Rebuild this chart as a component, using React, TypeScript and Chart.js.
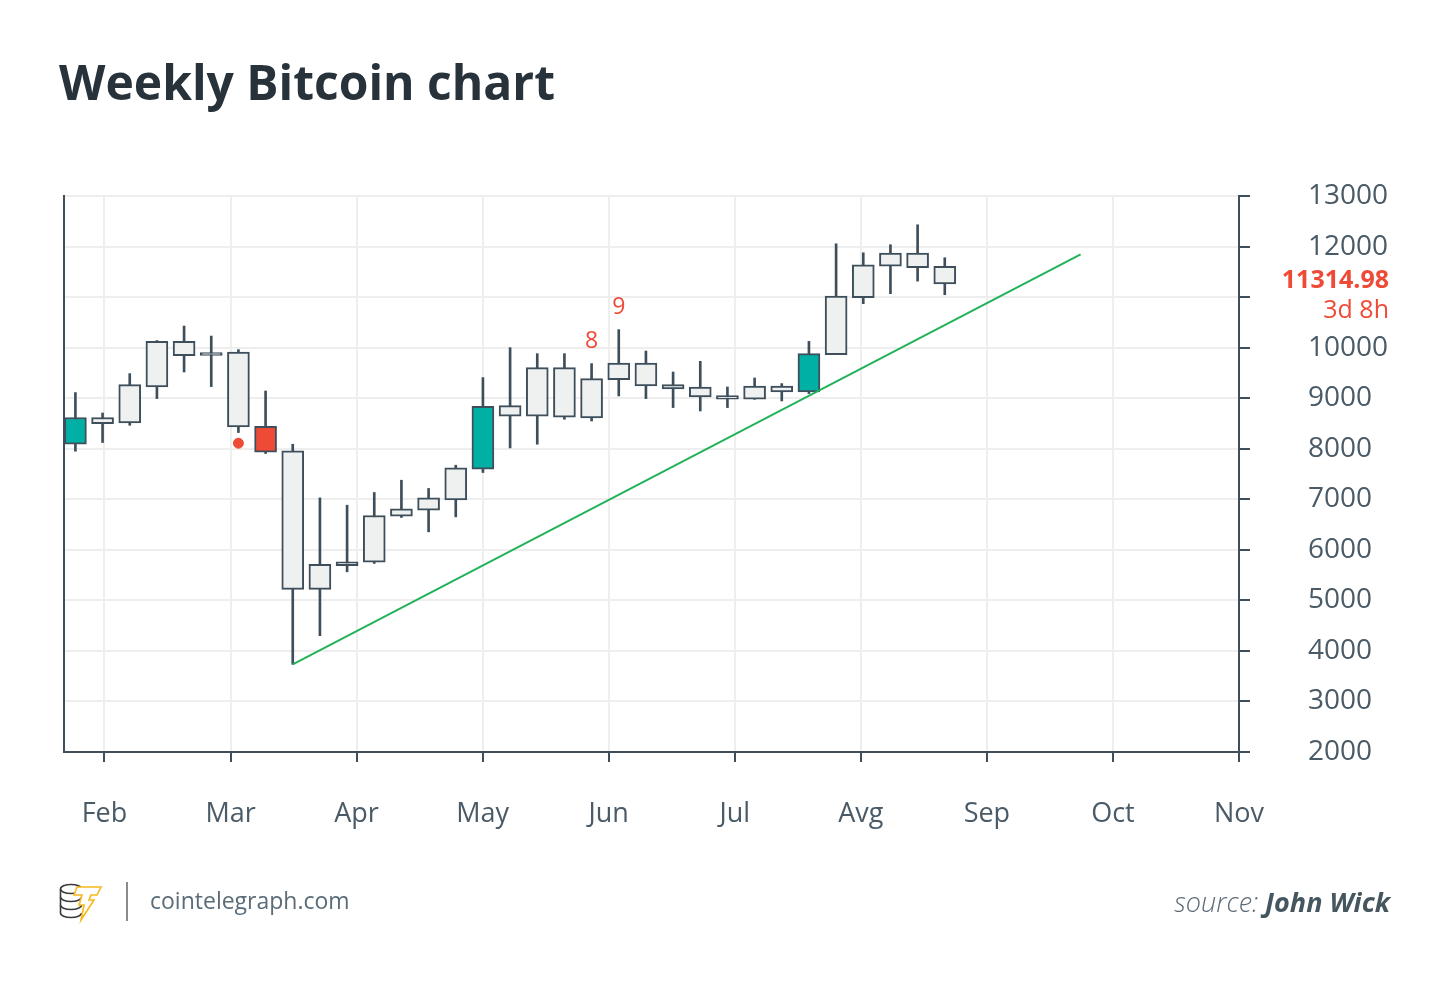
import React, { useEffect, useRef } from "react";
import { Chart, registerables } from "chart.js";

Chart.register(...registerables);

// ---------- data ----------
const TITLE = "Weekly Bitcoin chart";
const SITE = "cointelegraph.com";
const SOURCE_PREFIX = "source: ";
const SOURCE_NAME = "John Wick";

const monthLabels = ["Feb", "Mar", "Apr", "May", "Jun", "Jul", "Avg", "Sep", "Oct", "Nov"];
// month tick positions in week-index units
const monthPositions = [1.07, 5.71, 10.35, 14.99, 19.63, 24.27, 28.91, 33.55, 38.19, 42.83];

const opens = [8089, 8617, 8510, 9221, 10124, 9901, 9913, 8445, 7957, 5217, 5684, 5757, 6666, 6785, 6988, 7595, 8642, 8642, 9605, 8609, 9368, 9696, 9269, 9221, 9051, 8978, 9241, 9122, 9862, 10988, 11613, 11870, 11607];
const highs = [9111, 8707, 9486, 10140, 10427, 10229, 9960, 9142, 8089, 7028, 6883, 7134, 7377, 7214, 7674, 9407, 10000, 9881, 9881, 9684, 10356, 9933, 9518, 9729, 9221, 9399, 9289, 10124, 12055, 11877, 12036, 12431, 11779];
const lows = [7951, 8123, 8464, 8992, 9518, 9229, 8320, 7905, 3735, 4300, 5565, 5731, 6640, 6356, 6652, 7529, 8016, 8089, 8583, 8549, 9044, 8992, 8814, 8747, 8814, 8978, 8945, 9091, 9862, 10870, 11067, 11316, 11047];
const closes = [8617, 8498, 9269, 10124, 9842, 9848, 8431, 7931, 5217, 5712, 5763, 6679, 6811, 7028, 7621, 8840, 8853, 9605, 8622, 9387, 9696, 9241, 9182, 9024, 8978, 9241, 9122, 9881, 11020, 11640, 11870, 11581, 11260];
const candleKinds = ["teal", "plain", "plain", "plain", "plain", "plain", "plain", "red", "plain", "plain", "plain", "plain", "plain", "plain", "plain", "teal", "plain", "plain", "plain", "plain", "plain", "plain", "plain", "plain", "plain", "plain", "plain", "teal", "plain", "plain", "plain", "plain", "plain"];

const trendX = [8, 37];
const trendY = [3735, 11844];

const markerX = [6];
const markerY = [8109];

const countLabels = ["8", "9"];
const countX = [19, 20];

const currentPrice = 11314.98;
const currentPriceLabel = "11314.98";
const timeLeftLabel = "3d 8h";

const yMin = 2000;
const yMax = 13000;
const yStep = 1000;
const hiddenYLabels = [11000];

// ---------- styles ----------
const FONT = '"Open Sans", "DejaVu Sans", sans-serif';
const DARK = "#3e4f5b";
const TEXT = "#4a5b67";
const GRID = "#eeeeee";
const TEAL = "#00b0a4";
const RED = "#ef4a36";
const PLAIN = "#eff1f1";
const GREEN = "#22b259";

const kindColor = (k: string) => (k === "teal" ? TEAL : k === "red" ? RED : PLAIN);

const overlayPlugin = {
  id: "overlay",
  afterDraw(chart: any) {
    const ctx = chart.ctx as CanvasRenderingContext2D;
    const ys = chart.scales.y;
    const xs = chart.scales.x;
    ctx.save();

    // title
    ctx.fillStyle = "#27323a";
    ctx.font = `700 48px ${FONT}`;
    ctx.textAlign = "left";
    ctx.textBaseline = "alphabetic";
    ctx.fillText(TITLE, 59, 100);

    // current price labels
    const py = ys.getPixelForValue(currentPrice);
    ctx.fillStyle = RED;
    ctx.textAlign = "right";
    ctx.textBaseline = "middle";
    ctx.font = `700 25px ${FONT}`;
    ctx.fillText(currentPriceLabel, ys.right, py);
    ctx.font = `400 25px ${FONT}`;
    ctx.fillText(timeLeftLabel, ys.right, py + 30);

    // count labels
    ctx.textAlign = "center";
    ctx.font = `400 23px ${FONT}`;
    countLabels.forEach((t, i) => {
      const idx = countX[i];
      ctx.fillText(t, xs.getPixelForValue(idx), ys.getPixelForValue(highs[idx]) - 22);
    });

    // footer logo: coin stack
    ctx.strokeStyle = "#3a3a3a";
    ctx.lineWidth = 1.6;
    const cx = 71, rx = 10.5, ry = 4.5;
    ctx.beginPath();
    ctx.ellipse(cx, 889, rx, ry, 0, 0, Math.PI * 2);
    ctx.stroke();
    [897, 905, 913].forEach((yy) => {
      ctx.beginPath();
      ctx.ellipse(cx, yy, rx, ry, 0, 0, Math.PI);
      ctx.stroke();
    });
    ctx.beginPath();
    ctx.moveTo(cx - rx, 889);
    ctx.lineTo(cx - rx, 913);
    ctx.stroke();

    // footer logo: lightning T
    ctx.fillStyle = "#ffffff";
    ctx.strokeStyle = "#f6b81c";
    ctx.lineWidth = 1.6;
    ctx.beginPath();
    ctx.moveTo(77, 887);
    ctx.lineTo(101, 887);
    ctx.lineTo(97, 895);
    ctx.lineTo(91, 895);
    ctx.lineTo(89, 900);
    ctx.lineTo(94, 900);
    ctx.lineTo(81, 920);
    ctx.lineTo(84, 905);
    ctx.lineTo(79, 905);
    ctx.lineTo(82, 895);
    ctx.lineTo(74, 895);
    ctx.closePath();
    ctx.fill();
    ctx.stroke();

    // divider
    ctx.strokeStyle = "#8a8a8a";
    ctx.lineWidth = 2;
    ctx.beginPath();
    ctx.moveTo(127, 882);
    ctx.lineTo(127, 921);
    ctx.stroke();

    // site
    ctx.fillStyle = "#5b6c78";
    ctx.textAlign = "left";
    ctx.textBaseline = "alphabetic";
    ctx.font = `400 23px ${FONT}`;
    ctx.fillText(SITE, 150, 909);

    // source
    ctx.textAlign = "left";
    ctx.font = `700 italic 27px ${FONT}`;
    const nameW = ctx.measureText(SOURCE_NAME).width;
    ctx.font = `300 italic 27px ${FONT}`;
    const preW = ctx.measureText(SOURCE_PREFIX).width;
    const startX = 1390 - nameW - preW;
    ctx.fillStyle = "#5a6a76";
    ctx.fillText(SOURCE_PREFIX, startX, 912);
    ctx.fillStyle = "#46565f";
    ctx.font = `700 italic 27px ${FONT}`;
    ctx.fillText(SOURCE_NAME, startX + preW, 912);

    ctx.restore();
  },
};

export default function App() {
  const ref = useRef<HTMLCanvasElement | null>(null);

  useEffect(() => {
    document.body.style.margin = "0";
    let chart: Chart | null = null;
    let cancelled = false;

    const build = () => {
      if (cancelled || !ref.current) return;
      const idx = opens.map((_, i) => i);
      chart = new Chart(ref.current, {
        type: "bar",
        data: {
          datasets: [
            {
              type: "line",
              data: trendX.map((x, i) => ({ x, y: trendY[i] })),
              borderColor: GREEN,
              borderWidth: 2,
              pointRadius: 0,
              fill: false,
              order: 0,
            } as any,
            {
              type: "scatter",
              data: markerX.map((x, i) => ({ x, y: markerY[i] })),
              backgroundColor: RED,
              borderColor: RED,
              pointRadius: 5,
              order: 0,
            } as any,
            {
              type: "bar",
              data: idx.map((i) => ({ x: i, y: [opens[i], closes[i]] })),
              backgroundColor: idx.map((i) => kindColor(candleKinds[i])),
              borderColor: DARK,
              borderWidth: 2,
              borderSkipped: false,
              barThickness: 22,
              grouped: false,
              order: 1,
            } as any,
            {
              type: "bar",
              data: idx.map((i) => ({ x: i, y: [lows[i], highs[i]] })),
              backgroundColor: DARK,
              borderWidth: 0,
              barThickness: 2,
              grouped: false,
              order: 2,
            } as any,
          ],
        },
        options: {
          animation: false,
          responsive: false,
          maintainAspectRatio: false,
          devicePixelRatio: 1,
          layout: { padding: { top: 196, left: 64, right: 61, bottom: 130 } },
          plugins: { legend: { display: false }, tooltip: { enabled: false }, title: { display: false } },
          scales: {
            x: {
              type: "linear",
              min: -0.42,
              max: 42.83,
              offset: false,
              afterBuildTicks: (s: any) => {
                s.ticks = monthPositions.map((v) => ({ value: v }));
              },
              afterFit: (s: any) => {
                s.height = 100;
              },
              ticks: {
                autoSkip: false,
                maxRotation: 0,
                minRotation: 0,
                padding: 36,
                color: TEXT,
                font: { family: FONT, size: 27 },
                callback: (_v: any, i: number) => monthLabels[i],
              },
              grid: { offset: false, color: GRID, lineWidth: 2, tickColor: DARK, tickLength: 10, tickWidth: 2 },
              border: { color: DARK, width: 2 },
            },
            y: {
              type: "linear",
              position: "right",
              min: yMin,
              max: yMax,
              afterFit: (s: any) => {
                s.width = 150;
              },
              ticks: {
                stepSize: yStep,
                padding: 58,
                crossAlign: "near",
                color: TEXT,
                font: { family: FONT, size: 28 },
                callback: (v: any) => (hiddenYLabels.includes(Number(v)) ? "" : String(v)),
              },
              grid: { color: GRID, lineWidth: 2, tickColor: DARK, tickLength: 11, tickWidth: 2 },
              border: { color: DARK, width: 2 },
            },
            yl: {
              type: "linear",
              position: "left",
              min: yMin,
              max: yMax,
              afterFit: (s: any) => {
                s.width = 0;
              },
              ticks: { display: false },
              grid: { display: false, drawOnChartArea: false, drawTicks: false },
              border: { display: true, color: DARK, width: 2 },
            },
          },
        } as any,
        plugins: [overlayPlugin],
      });
    };

    const fonts = (document as any).fonts;
    if (fonts && fonts.load) {
      Promise.all([
        fonts.load(`700 48px "Open Sans"`),
        fonts.load(`400 27px "Open Sans"`),
        fonts.load(`italic 300 27px "Open Sans"`),
        fonts.load(`italic 700 27px "Open Sans"`),
      ])
        .catch(() => null)
        .then(build);
    } else {
      build();
    }

    return () => {
      cancelled = true;
      if (chart) chart.destroy();
    };
  }, []);

  return (
    <div style={{ position: "fixed", left: 0, top: 0, width: 1450, height: 982, background: "#ffffff" }}>
      <canvas ref={ref} width={1450} height={982} style={{ width: 1450, height: 982, display: "block" }} />
    </div>
  );
}
